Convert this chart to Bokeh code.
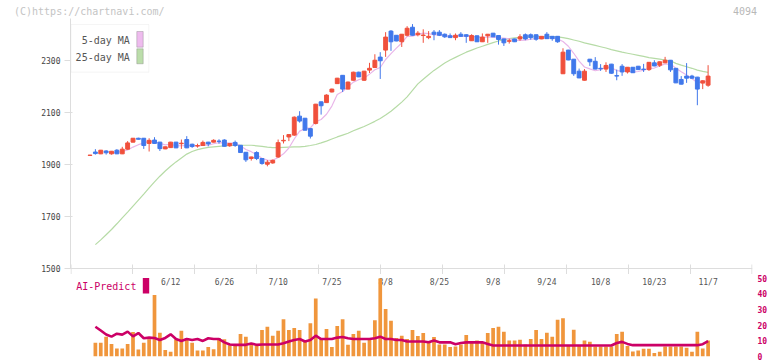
import pandas as pd
from bokeh.plotting import figure
from bokeh.layouts import column
from bokeh.models import Range1d, FixedTicker, Label, BoxAnnotation, ColumnDataSource, Span, Div
from bokeh.core.properties import value
from bokeh.embed import file_html
from bokeh.resources import INLINE

NaN = float("nan")

# ---- trading days (Tokyo, 2025) ----
holidays = ["2025-07-21", "2025-08-11", "2025-09-15", "2025-09-23", "2025-10-13", "2025-11-03"]
days = pd.bdate_range("2025-05-22", "2025-11-07")
days = days[~days.isin(pd.to_datetime(holidays))]
dates = [f"{d.month}/{d.day}" for d in days]
date_labels = ["6/12", "6/26", "7/10", "7/25", "8/8", "8/25", "9/8", "9/24", "10/8", "10/23", "11/7"]

# ---- prices ----
open_ = [1935,1948,1941,1952,1941,1955,1941,1959,1986,2001,
         2001,1981,1994,1986,1960,1965,1986,1980,1996,1978,
         1971,1973,1986,1986,1990,1994,1972,1985,1974,1947,
         1923,1946,1923,1901,1906,1929,1991,2006,2013,2086,
         2078,2038,2058,2141,2138,2179,2211,2243,2190,2224,
         2255,2224,2263,2273,2313,2340,2413,2397,2372,2397,
         2428,2399,2396,2388,2409,2409,2401,2395,2388,2401,
         2399,2376,2395,2372,2395,2405,2396,2383,2374,2383,
         2383,2399,2399,2399,2383,2401,2393,2393,2249,2340,
         2305,2259,2224,2305,2297,2270,2267,2286,2242,2278,
         2256,2274,2278,2267,2265,2291,2282,2291,2301,2270,
         2227,2240,2240,2236,2213,2205]
close = [1936,1942,1955,1945,1951,1941,1959,1983,2001,1997,
         1973,1993,1981,1961,1968,1986,1964,1982,1964,1969,
         1973,1985,1979,1993,1989,1970,1981,1973,1946,1918,
         1929,1923,1904,1909,1916,1984,1993,2015,2082,2067,
         2032,2009,2132,2126,2167,2190,2232,2190,2217,2255,
         2237,2259,2270,2301,2299,2390,2372,2375,2401,2424,
         2397,2405,2398,2393,2401,2397,2391,2388,2397,2393,
         2393,2396,2372,2390,2401,2391,2381,2368,2376,2372,
         2391,2383,2388,2382,2393,2384,2384,2372,2332,2302,
         2249,2233,2259,2295,2267,2268,2281,2251,2240,2256,
         2274,2253,2265,2265,2293,2279,2295,2301,2264,2214,
         2209,2232,2232,2190,2222,2240]
high = [1937,1959,1956,1955,1952,1959,1968,1990,2002,2003,
        2002,2001,2005,1987,1969,1987,1987,1996,2009,1980,
        1980,1992,1987,1997,1997,1997,1982,1992,1975,1948,
        1930,1951,1924,1917,1919,1996,2013,2016,2085,2105,
        2079,2039,2133,2142,2170,2192,2233,2244,2219,2257,
        2257,2260,2291,2324,2332,2409,2417,2398,2402,2432,
        2440,2413,2420,2413,2417,2417,2404,2404,2404,2409,
        2401,2401,2396,2404,2402,2406,2397,2384,2384,2384,
        2401,2404,2404,2400,2394,2409,2394,2394,2347,2341,
        2306,2269,2267,2306,2313,2286,2293,2287,2265,2286,
        2275,2275,2279,2287,2294,2301,2296,2314,2302,2271,
        2240,2290,2245,2237,2224,2282]
low = [1934,1938,1940,1938,1938,1940,1940,1957,1985,1996,
       1960,1950,1980,1952,1959,1964,1963,1960,1963,1964,
       1965,1972,1970,1985,1980,1969,1968,1968,1945,1910,
       1915,1917,1899,1893,1903,1926,1981,1990,2010,2061,
       2031,2000,2054,2092,2137,2177,2210,2179,2189,2223,
       2236,2222,2252,2272,2229,2314,2337,2374,2352,2393,
       2396,2393,2368,2382,2378,2394,2387,2387,2378,2391,
       2368,2375,2371,2371,2368,2390,2361,2356,2365,2371,
       2376,2378,2380,2376,2382,2383,2376,2368,2248,2301,
       2241,2232,2223,2279,2266,2260,2256,2249,2224,2241,
       2250,2252,2264,2256,2260,2278,2275,2290,2256,2213,
       2208,2214,2230,2128,2190,2199]
ma25 = [NaN,1592,1610,1630,1650,1672,1695,1717,1740,1763,
        1786,1810,1833,1855,1875,1893,1910,1925,1940,1950,
        1957,1962,1966,1968,1970,1972,1973,1973,1974,1974,
        1974,1972,1970,1967,1965,1965,1966,1967,1968,1968,
        1970,1973,1977,1983,1990,1998,2006,2013,2020,2030,
        2038,2046,2056,2066,2077,2090,2105,2122,2140,2160,
        2185,2210,2228,2245,2262,2276,2290,2302,2312,2322,
        2332,2340,2348,2355,2362,2369,2375,2380,2384,2387,
        2389,2390,2391,2392,2392,2392,2392,2391,2388,2384,
        2379,2374,2368,2363,2358,2353,2348,2342,2337,2332,
        2328,2324,2320,2316,2311,2308,2305,2302,2299,2289,
        2282,2276,2270,2263,2258,2254]

# ---- lower panel (right-axis scale) ----
volume = [NaN,8.8,8.8,12.6,8.0,5.1,5.1,8.0,15.5,4.4,
          8.8,10.9,39.0,15.1,4.2,3.0,10.9,16.4,11.8,8.8,
          3.8,3.8,6.1,4.6,11.8,10.9,7.2,7.2,14.3,12.6,
          8.0,8.0,16.8,18.9,13.2,16.4,23.7,16.8,18.1,16.8,
          10.5,21.2,36.9,11.8,17.4,6.1,19.3,23.7,7.4,14.3,
          16.4,8.8,11.8,23.1,49.5,30.2,22.7,11.8,13.2,11.1,
          16.8,13.0,14.9,8.8,12.4,7.6,7.6,6.1,6.3,7.6,
          13.6,8.8,10.1,8.8,14.9,18.1,18.9,15.8,10.1,10.1,
          10.7,7.6,11.1,16.8,11.1,15.1,12.6,23.3,24.3,7.2,
          17.0,7.2,10.1,9.3,6.3,6.3,6.3,6.3,14.3,15.8,
          6.7,3.2,3.8,4.9,4.9,2.3,3.0,6.3,6.3,6.3,
          6.3,5.5,3.0,15.8,5.1,10.1]
ai_predict = [NaN,18.9,16.5,14.0,12.6,14.5,13.9,15.8,12.8,14.9,
              11.6,12.0,11.8,10.5,11.8,14.1,11.1,9.9,11.1,10.5,
              11.1,9.9,11.6,11.1,11.1,9.0,7.6,7.4,7.4,7.4,
              8.2,7.4,7.6,7.6,7.6,7.6,8.4,9.5,10.5,11.1,
              9.5,10.5,13.2,11.1,11.1,11.1,12.0,12.4,11.6,11.1,
              11.1,11.1,11.1,11.6,12.6,11.1,11.1,10.5,10.5,9.5,
              9.5,9.5,9.5,9.0,10.1,9.0,9.0,9.0,7.8,8.6,
              9.0,9.0,9.0,9.0,8.0,7.0,7.0,7.0,7.0,7.0,
              7.0,7.0,7.0,7.0,7.0,7.0,7.0,7.0,7.0,7.0,
              7.0,7.0,7.0,7.0,7.0,7.0,7.0,7.0,8.6,9.3,
              8.0,7.2,7.2,7.2,7.2,7.2,7.2,7.2,7.2,7.2,
              7.2,7.2,7.2,7.2,7.8,9.7]

price_ticks = [1500, 1700, 1900, 2100, 2300]
ai_ticks = [0, 10, 20, 30, 40, 50]

# ---- styles ----
RED, BLUE = "#f0503c", "#4078eb"
PINK, GREEN = "#e9b6e9", "#b6dba6"
ORANGE, MAGENTA = "#f0963c", "#cc0066"
MONO = "DejaVu Sans Mono"
AXIS_GREY = "#dddddd"

n = len(dates)
idx = list(range(n))
ma5 = pd.Series(close).rolling(5).mean().tolist()
colors = [RED if c >= o else BLUE for o, c in zip(open_, close)]
src = ColumnDataSource(dict(
    x=idx, high=high, low=low,
    top=[max(o, c) for o, c in zip(open_, close)],
    bottom=[min(o, c) for o, c in zip(open_, close)],
    color=colors, ma5=ma5, ma25=ma25, volume=volume, ai=ai_predict))

FRAME_W = 682
x_start, x_end = -3.63, 123.26
xr = Range1d(x_start, x_end)
step = (x_end - x_start) / 11
grid_ticks = [x_start + k * step for k in range(12)]
grid_ticks[0] += 0.1
grid_ticks[-1] -= 0.1


def clean(fig):
    fig.outline_line_color = None
    fig.grid.visible = False
    fig.background_fill_color = "white"
    fig.border_fill_color = "white"


# ================= header (copyright / code) =================
header = Div(
    width=772, height=18, margin=(0, 0, 0, 0),
    text=('<div style="position:relative;width:772px;height:18px;margin:0;padding:0;'
          'font-family:\'DejaVu Sans Mono\',monospace;font-size:10px;line-height:10px;">'
          '<span style="position:absolute;left:14px;top:7px;color:#c4c4c4;white-space:nowrap;">'
          '(C)https://chartnavi.com/</span>'
          '<span style="position:absolute;left:733px;top:7px;color:#b8b8b8;white-space:nowrap;">'
          '4094</span></div>'))

# ================= price panel =================
PX_PER = 0.26                     # pixels per yen
PY0 = 1500 - 6 / PX_PER           # frame extends 6 px below the 1500 line
PY1 = 1500 + 250 / PX_PER
p = figure(frame_width=FRAME_W, frame_height=256, x_range=xr, y_range=Range1d(PY0, PY1),
           output_backend="svg", toolbar_location=None, x_axis_location=None,
           min_border_left=70, min_border_right=20, min_border_top=0, min_border_bottom=0)
clean(p)

ya = p.yaxis[0]
ya.ticker = FixedTicker(ticks=price_ticks)
ya.bounds = (1500, PY1)
ya.axis_line_color = AXIS_GREY
ya.major_tick_line_color = AXIS_GREY
ya.major_tick_out = 6
ya.major_tick_in = 2
ya.minor_tick_line_color = None
ya.major_label_text_font = MONO
ya.major_label_text_font_size = "8px"
ya.major_label_text_color = "#444444"
ya.major_label_standoff = 4

# separator line with short ticks (4 px up, 6 px down)
p.add_layout(Span(location=1500, dimension="width", line_color=AXIS_GREY, line_width=1))
p.segment(x0=grid_ticks, y0=[1500 - 6 / PX_PER] * 12, x1=grid_ticks, y1=[1500 + 4 / PX_PER] * 12,
          color=AXIS_GREY, line_width=1)

p.line("x", "ma25", source=src, color=GREEN, line_width=1.2)
p.line("x", "ma5", source=src, color=PINK, line_width=1.2)
p.segment(x0="x", y0="low", x1="x", y1="high", source=src, color="color", line_width=1)
p.vbar(x="x", width=0.72, top="top", bottom="bottom", source=src,
       fill_color="color", line_color="color", line_width=1)

# legend (label left, swatch right); screen units measured from frame bottom-left
LB = 6  # frame bottom lies 6 px below the 1500 line
p.add_layout(BoxAnnotation(left=0.5, right=78.3, top=244 + LB, bottom=196.3 + LB,
                           left_units="screen", right_units="screen",
                           top_units="screen", bottom_units="screen",
                           fill_color="white", fill_alpha=1,
                           line_color=AXIS_GREY, line_width=1))
for text, yc, fill, top, bot in [("5-day MA", 228, "#eebbee", 237, 221.3),
                                 ("25-day MA", 211, "#bbddaa", 219.7, 204.7)]:
    p.add_layout(Label(x=59.3, y=yc + LB, x_units="screen", y_units="screen", text=text,
                       text_align="right", text_baseline="middle",
                       text_font=MONO, text_font_size="10px", text_color="#555555"))
    p.add_layout(BoxAnnotation(left=66.3, right=72.7, top=top + LB, bottom=bot + LB,
                               left_units="screen", right_units="screen",
                               top_units="screen", bottom_units="screen",
                               fill_color=fill, fill_alpha=1,
                               line_color="#666666", line_width=1))

# ================= AI-Predict / volume panel =================
V_PX = 1.574                       # pixels per unit on the right scale
V_H = 82
VY1 = V_H / V_PX
v = figure(frame_width=FRAME_W, frame_height=V_H, x_range=xr, y_range=Range1d(0, VY1),
           output_backend="svg", toolbar_location=None,
           x_axis_location=None, y_axis_location="right",
           min_border_left=70, min_border_right=20, min_border_top=0, min_border_bottom=5)
clean(v)

ra = v.yaxis[0]
ra.ticker = FixedTicker(ticks=ai_ticks)
ra.axis_line_color = None
ra.major_tick_line_color = None
ra.major_tick_in = 0
ra.major_tick_out = 0
ra.minor_tick_line_color = None
ra.major_label_text_font = MONO
ra.major_label_text_font_size = "8px"
ra.major_label_text_font_style = "bold"
ra.major_label_text_color = MAGENTA
ra.major_label_standoff = 5

label_x = [dates.index(d) for d in date_labels]
v.text(x=label_x, y=[46.8] * len(label_x), text=date_labels,
       text_align="center", text_baseline="middle",
       text_font=value(MONO), text_font_size="8px", text_color="#555555")
v.vbar(x="x", width=0.69, top="volume", bottom=0, source=src,
       fill_color=ORANGE, line_color=None)
v.line("x", "ai", source=src, color=MAGENTA, line_width=2.6)

v.add_layout(Label(x=5.7, y=70, x_units="screen", y_units="screen",
                   text="AI-Predict", text_align="left", text_baseline="middle",
                   text_font=MONO, text_font_size="10px", text_color=MAGENTA))
v.add_layout(BoxAnnotation(left=72.3, right=78.7, top=78.5, bottom=63,
                           left_units="screen", right_units="screen",
                           top_units="screen", bottom_units="screen",
                           fill_color=MAGENTA, fill_alpha=1, line_color=None))

layout = column(header, p, v, spacing=0)
open("out.html", "w").write(file_html(layout, INLINE))
